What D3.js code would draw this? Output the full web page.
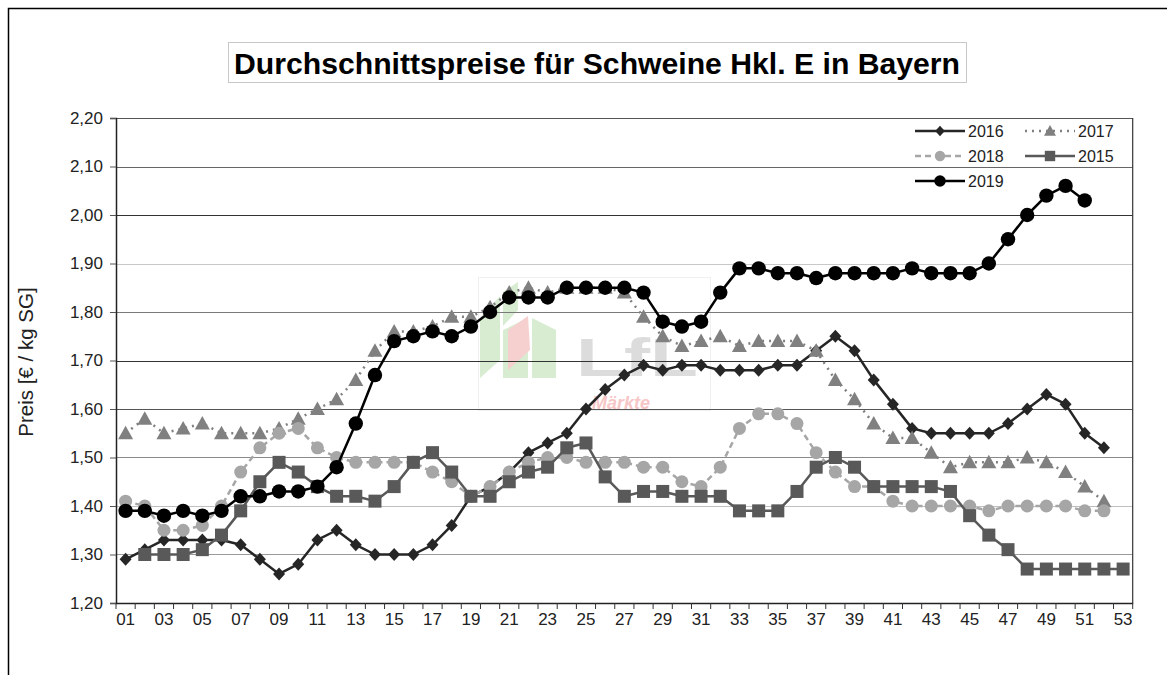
<!DOCTYPE html>
<html><head><meta charset="utf-8">
<script src="https://cdn.jsdelivr.net/npm/d3@7"></script>
<style>body{margin:0;background:#fff;} svg{display:block;font-family:"Liberation Sans",Arial,sans-serif;}</style>
</head><body>
<svg id="c" width="1167" height="675"></svg>
<script>
const weeks = d3.range(1, 54);
const weekLabels = weeks.map(w => String(w).padStart(2, "0"));
const yTicks = [1.2,1.3,1.4,1.5,1.6,1.7,1.8,1.9,2.0,2.1,2.2];

const s2016 = [1.29,1.31,1.33,1.33,1.33,1.33,1.32,1.29,1.26,1.28,1.33,1.35,1.32,1.30,1.30,1.30,1.32,1.36,1.42,1.44,1.47,1.51,1.53,1.55,1.60,1.64,1.67,1.69,1.68,1.69,1.69,1.68,1.68,1.68,1.69,1.69,1.72,1.75,1.72,1.66,1.61,1.56,1.55,1.55,1.55,1.55,1.57,1.60,1.63,1.61,1.55,1.52];
const s2017 = [1.55,1.58,1.55,1.56,1.57,1.55,1.55,1.55,1.56,1.58,1.60,1.62,1.66,1.72,1.76,1.76,1.77,1.79,1.79,1.81,1.84,1.85,1.84,1.85,1.85,1.85,1.84,1.79,1.75,1.73,1.74,1.75,1.73,1.74,1.74,1.74,1.72,1.66,1.62,1.57,1.54,1.54,1.51,1.48,1.49,1.49,1.49,1.50,1.49,1.47,1.44,1.41];
const s2018 = [1.41,1.40,1.35,1.35,1.36,1.40,1.47,1.52,1.55,1.56,1.52,1.50,1.49,1.49,1.49,1.49,1.47,1.45,1.42,1.44,1.47,1.49,1.50,1.50,1.49,1.49,1.49,1.48,1.48,1.45,1.44,1.48,1.56,1.59,1.59,1.57,1.51,1.47,1.44,1.44,1.41,1.40,1.40,1.40,1.40,1.39,1.40,1.40,1.40,1.40,1.39,1.39];
const s2015 = [null,1.30,1.30,1.30,1.31,1.34,1.39,1.45,1.49,1.47,1.44,1.42,1.42,1.41,1.44,1.49,1.51,1.47,1.42,1.42,1.45,1.47,1.48,1.52,1.53,1.46,1.42,1.43,1.43,1.42,1.42,1.42,1.39,1.39,1.39,1.43,1.48,1.50,1.48,1.44,1.44,1.44,1.44,1.43,1.38,1.34,1.31,1.27,1.27,1.27,1.27,1.27,1.27];
const s2019 = [1.39,1.39,1.38,1.39,1.38,1.39,1.42,1.42,1.43,1.43,1.44,1.48,1.57,1.67,1.74,1.75,1.76,1.75,1.77,1.80,1.83,1.83,1.83,1.85,1.85,1.85,1.85,1.84,1.78,1.77,1.78,1.84,1.89,1.89,1.88,1.88,1.87,1.88,1.88,1.88,1.88,1.89,1.88,1.88,1.88,1.90,1.95,2.00,2.04,2.06,2.03];

const series = [
  {name:"2016", values:s2016, color:"#262626", marker:"diamond", dash:null, lw:2.5},
  {name:"2017", values:s2017, color:"#808080", marker:"triangle", dash:"2,5", lw:2.5},
  {name:"2018", values:s2018, color:"#a6a6a6", marker:"circle", dash:"6,4", lw:2.5},
  {name:"2015", values:s2015, color:"#595959", marker:"square", dash:null, lw:2.5},
  {name:"2019", values:s2019, color:"#000000", marker:"circle19", dash:null, lw:2.5}
];

const svg = d3.select("#c");
// outer frame
svg.append("rect").attr("x",8.5).attr("y",8.5).attr("width",1200).attr("height",700)
  .attr("fill","none").attr("stroke","#000").attr("stroke-width",1.5);

// title
svg.append("rect").attr("x",228.5).attr("y",42.5).attr("width",738).attr("height",40)
  .attr("fill","#fff").attr("stroke","#c8c8c8");
svg.append("text").attr("x",597).attr("y",74).attr("text-anchor","middle")
  .attr("font-size",30).attr("font-weight","bold").attr("fill","#000")
  .attr("textLength",726).attr("lengthAdjust","spacingAndGlyphs")
  .text("Durchschnittspreise für Schweine Hkl. E in Bayern");

const L=116, R=1132.7, T=118, B=603;
const x = d3.scaleBand().domain(weekLabels).range([L,R]).paddingInner(0).paddingOuter(0);
const y = d3.scaleLinear().domain([1.2,2.2]).range([B,T]);
const cx = i => x(weekLabels[i]) + x.bandwidth()/2;

// watermark
const wm = svg.append("g");
wm.append("rect").attr("x",478.5).attr("y",277.5).attr("width",232).attr("height",133)
  .attr("fill","none").attr("stroke","#f0f0f0");
wm.append("path").attr("d","M480,318 L500,296 L500,360 L480,378 Z").attr("fill","#d8ecd2");
wm.append("path").attr("d","M503,330 L528,318 L528,378 L503,378 Z").attr("fill","#d8ecd2");
wm.append("path").attr("d","M532,318 L556,330 L556,378 L532,378 Z").attr("fill","#d8ecd2");
wm.append("path").attr("d","M503,326 L503,292 L518,282 L518,310 Z").attr("fill","#d8ecd2");
wm.append("path").attr("d","M508,370 L508,330 L528,316 L530,350 Z").attr("fill","#f6cfcf");
wm.append("text").attr("x",576).attr("y",376).attr("font-size",54).attr("font-weight","bold")
  .attr("fill","#dcdcdc").attr("textLength",122).attr("lengthAdjust","spacingAndGlyphs").text("LfL");
wm.append("text").attr("x",592).attr("y",409).attr("font-size",18).attr("font-style","italic")
  .attr("font-weight","bold").attr("fill","#f7c6c6").text("Märkte");

// gridlines
const gridCol = {"1.3":"#9a9a9a","1.4":"#c0c0c0","1.5":"#8a8a8a","1.6":"#555","1.7":"#333","1.8":"#7a7a7a","1.9":"#c8c8c8","2.0":"#333","2.1":"#666","2.2":"#555"};
svg.append("g").selectAll("line").data(yTicks.slice(1)).join("line")
  .attr("x1",L).attr("x2",R).attr("y1",d=>Math.round(y(d))+0.5).attr("y2",d=>Math.round(y(d))+0.5)
  .attr("stroke",d=>gridCol[d.toFixed(1)]||"#888").attr("stroke-width",1.2);
// right border
svg.append("line").attr("x1",R).attr("x2",R).attr("y1",T).attr("y2",B).attr("stroke","#333").attr("stroke-width",1.2);

// axes
const yAxis = d3.axisLeft(y).tickValues(yTicks).tickSize(6).tickPadding(7)
  .tickFormat(d=>d3.format(".2f")(d).replace(".",","));
const gy = svg.append("g").attr("transform",`translate(${L},0)`).call(yAxis);
gy.select(".domain").attr("stroke","#222").attr("stroke-width",1.5);
gy.selectAll(".tick line").attr("stroke","#555");
gy.selectAll("text").attr("font-size",17).attr("fill","#222").attr("font-family","Liberation Sans, Arial");

const xAxis = d3.axisBottom(x).tickSize(0).tickPadding(10)
  .tickFormat((d,i)=> (i%2===0)? d : "");
const gx = svg.append("g").attr("transform",`translate(0,${B})`).call(xAxis);
gx.select(".domain").attr("stroke","#222").attr("stroke-width",1.5);
gx.selectAll("text").attr("font-size",17).attr("fill","#222").attr("font-family","Liberation Sans, Arial");
// boundary ticks
const bounds = weekLabels.map(d=>x(d)).concat([R]);
svg.append("g").selectAll("line").data(bounds).join("line")
  .attr("x1",d=>d).attr("x2",d=>d).attr("y1",B).attr("y2",B+6).attr("stroke","#333").attr("stroke-width",1);

// y label
svg.append("text").attr("transform","translate(33,362) rotate(-90)").attr("text-anchor","middle")
  .attr("font-size",20.5).attr("fill","#222").text("Preis [€ / kg SG]");

function drawMarker(g, type, color){
  if(type==="diamond") g.append("path").attr("d","M0,-6.5 L6,0 L0,6.5 L-6,0 Z").attr("fill",color);
  else if(type==="triangle") g.append("path").attr("d","M0,-7.5 L7.5,6 L-7.5,6 Z").attr("fill",color);
  else if(type==="square") g.append("rect").attr("x",-6.5).attr("y",-6.5).attr("width",13).attr("height",13).attr("fill",color);
  else if(type==="circle") g.append("circle").attr("r",6.5).attr("fill",color);
  else if(type==="circle19") g.append("circle").attr("r",7.2).attr("fill",color);
}

const line = d3.line().defined(d=>d.v!=null).x(d=>cx(d.i)).y(d=>y(d.v));
series.forEach(s=>{
  const pts = s.values.map((v,i)=>({i,v}));
  const g = svg.append("g");
  g.append("path").datum(pts).attr("d",line).attr("fill","none").attr("stroke",s.color)
    .attr("stroke-width",s.lw).attr("stroke-dasharray",s.dash).attr("stroke-linejoin","round");
  pts.filter(d=>d.v!=null).forEach(d=>{
    const m = g.append("g").attr("transform",`translate(${cx(d.i)},${y(d.v)})`);
    drawMarker(m, s.marker, s.color);
  });
});

// legend
const legPos = {"2016":[915,131],"2017":[1025,131],"2018":[915,156],"2015":[1025,156],"2019":[915,181]};
series.forEach(s=>{
  const [lx,ly] = legPos[s.name];
  const g = svg.append("g");
  g.append("line").attr("x1",lx).attr("x2",lx+50).attr("y1",ly).attr("y2",ly)
    .attr("stroke",s.color).attr("stroke-width",2.5).attr("stroke-dasharray",s.dash);
  const m = g.append("g").attr("transform",`translate(${lx+25},${ly}) scale(0.8)`);
  drawMarker(m, s.marker, s.color);
  g.append("text").attr("x",lx+53).attr("y",ly+5.5).attr("font-size",16).attr("fill","#222").text(s.name);
});
</script>
</body></html>
